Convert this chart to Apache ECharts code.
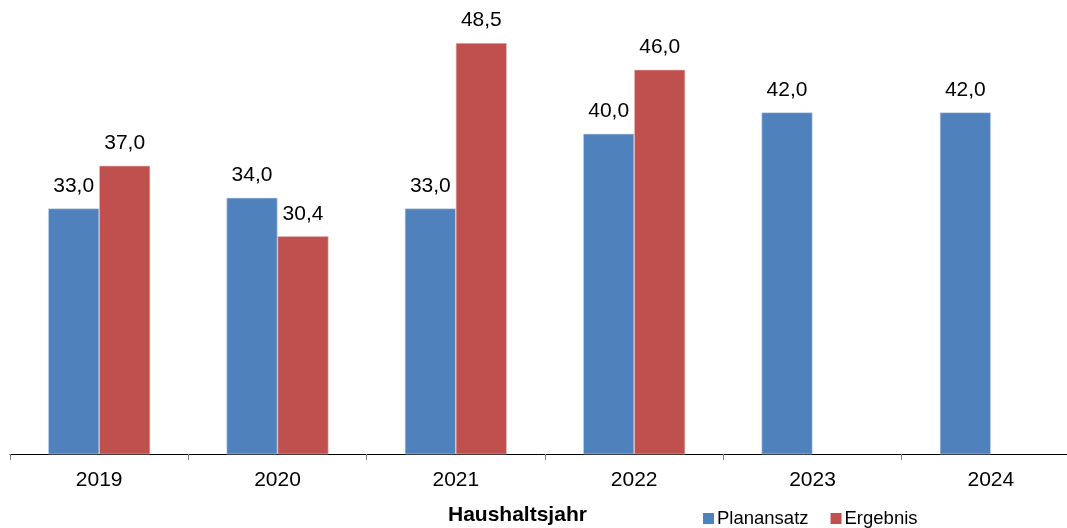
<!DOCTYPE html>
<html>
<head>
<meta charset="utf-8">
<script src="https://cdn.jsdelivr.net/npm/echarts@6/dist/echarts.min.js"></script>
<style>
  html, body { margin: 0; padding: 0; background: #ffffff; }
  #chart { width: 1067px; height: 528px; }
</style>
</head>
<body>
<div id="chart"></div>
<script>
// Haushaltsjahre und Werte (Planansatz / Ergebnis)
const years = ['2019', '2020', '2021', '2022', '2023', '2024'];
const planansatz = [33.0, 34.0, 33.0, 40.0, 42.0, 42.0];
const ergebnis = [37.0, 30.4, 48.5, 46.0, null, null];

const FONT = '"Liberation Sans", Arial, sans-serif';
const fmt = p => p.value == null ? '' : p.value.toFixed(1).replace('.', ',');

const labelStyle = {
  show: true,
  position: 'top',
  distance: 12,
  formatter: fmt,
  color: '#000000',
  fontFamily: FONT,
  fontSize: 21
};

const chart = echarts.init(document.getElementById('chart'), null, { renderer: 'canvas' });
chart.setOption({
  animation: false,
  backgroundColor: '#ffffff',
  // the category axis runs on past the right edge of the canvas
  grid: { left: 10, width: 1070, top: 27, bottom: 74, outerBoundsMode: 'none' },
  title: {
    text: 'Haushaltsjahr',
    left: 448,
    top: 505,
    padding: 0,
    textStyle: { fontFamily: FONT, fontSize: 21, fontWeight: 'bold', color: '#000000' }
  },
  legend: {
    left: 703,
    top: 509,
    padding: 0,
    itemWidth: 11,
    itemHeight: 11,
    itemGap: 22,
    icon: 'rect',
    itemStyle: { borderWidth: 0 },
    textStyle: { fontFamily: FONT, fontSize: 18.5, color: '#000000', padding: [0, 0, 0, -2] },
    data: ['Planansatz', 'Ergebnis']
  },
  xAxis: {
    type: 'category',
    data: years,
    boundaryGap: true,
    axisLine: { show: true, lineStyle: { color: '#000000', width: 1 } },
    axisTick: { show: true, length: 6, alignWithLabel: false, lineStyle: { color: '#808080' } },
    axisLabel: { margin: 16, color: '#000000', fontFamily: FONT, fontSize: 21 },
    splitLine: { show: false }
  },
  yAxis: {
    type: 'value',
    min: 10,
    max: 50,
    show: false
  },
  series: [
    {
      name: 'Planansatz',
      type: 'bar',
      data: planansatz,
      barWidth: 51,
      barGap: '0%',
      itemStyle: { color: '#4F81BD', borderColor: '#c9d7ea', borderWidth: 0.6 },
      label: labelStyle
    },
    {
      name: 'Ergebnis',
      type: 'bar',
      data: ergebnis,
      barWidth: 51,
      barGap: '0%',
      itemStyle: { color: '#C0504D', borderColor: '#e6c2c1', borderWidth: 0.6 },
      label: labelStyle
    }
  ]
});
</script>
</body>
</html>
